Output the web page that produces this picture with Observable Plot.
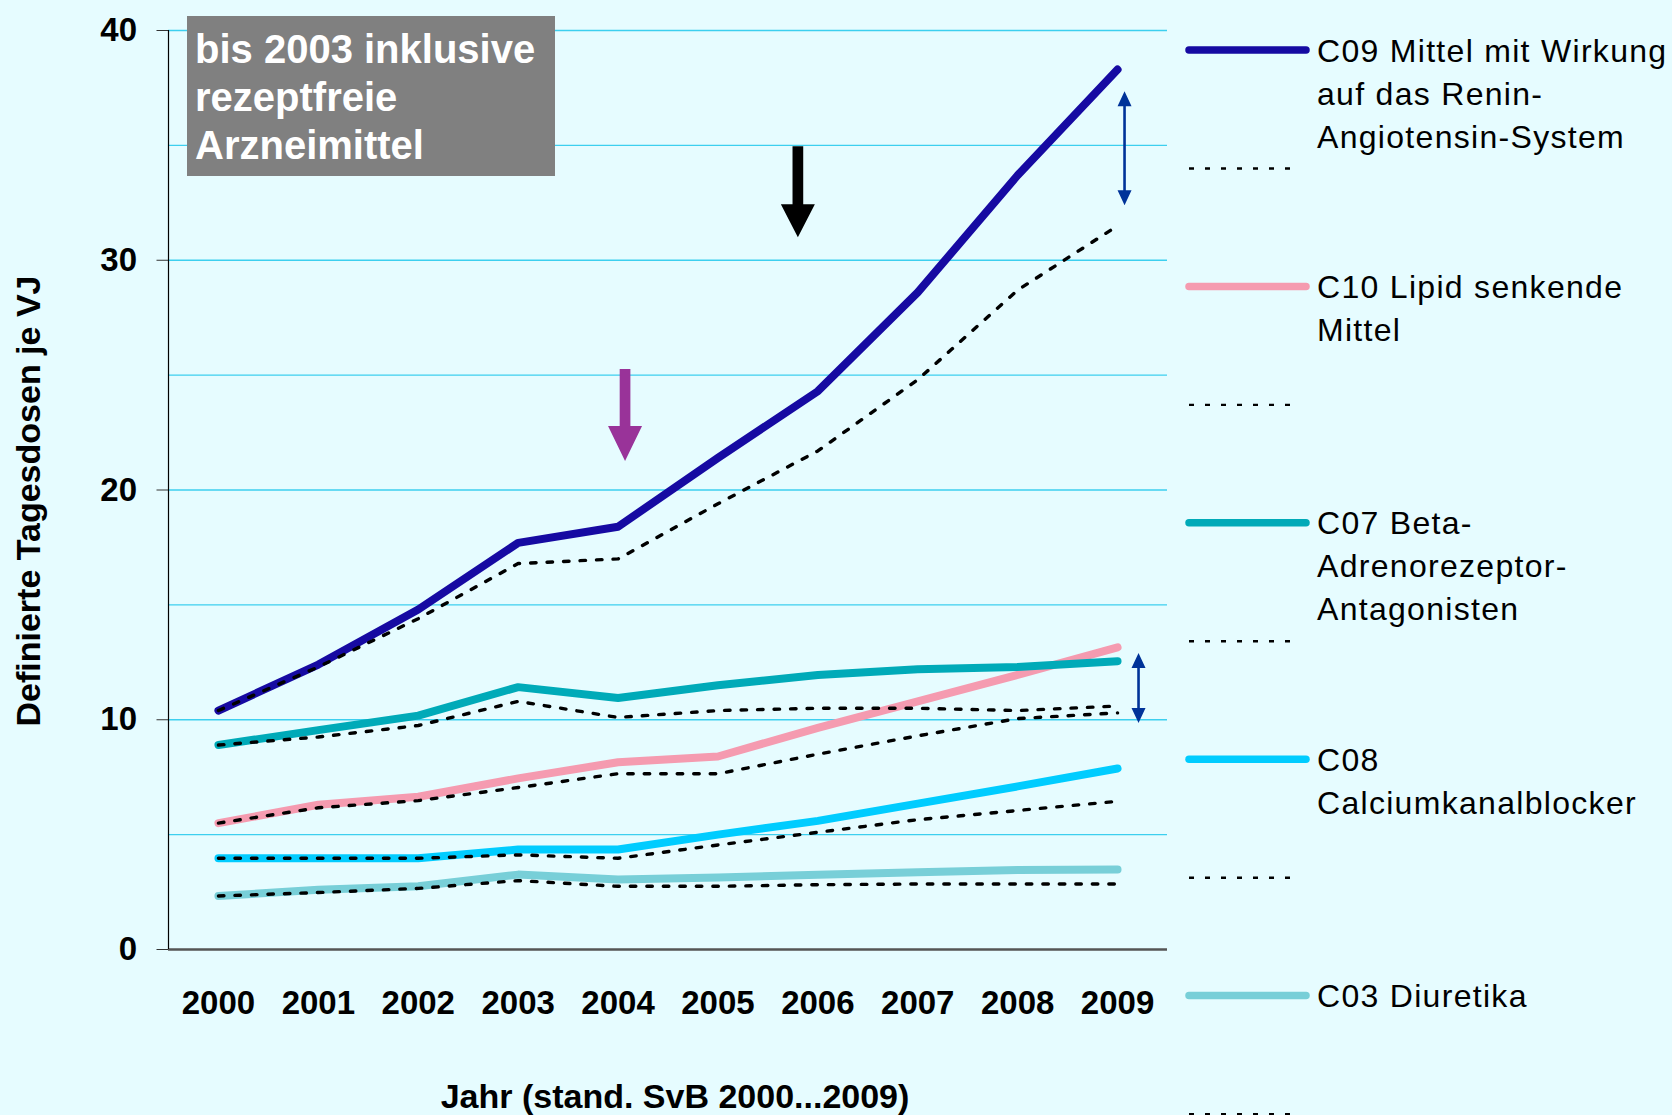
<!DOCTYPE html>
<html>
<head>
<meta charset="utf-8">
<script src="https://cdn.jsdelivr.net/npm/d3@7"></script>
<script src="https://cdn.jsdelivr.net/npm/@observablehq/plot@0.6"></script>
<style>
html, body { margin: 0; padding: 0; background: #E6FCFF; }
#wrap { position: relative; width: 1672px; height: 1115px; overflow: hidden; background: #E6FCFF;
        font-family: "Liberation Sans", Arial, sans-serif; }
#chart { position: absolute; left: 0; top: 0; }
#legend { position: absolute; left: 0; top: 0; pointer-events: none; }
.note { position: absolute; left: 187px; top: 16px; width: 368px; height: 160px; box-sizing: border-box;
        background: #808080; color: #fff; font-weight: bold; font-size: 40px; line-height: 48px;
        padding: 9px 0 0 8px; white-space: nowrap; }
.ytitle { position: absolute; left: 28px; top: 501px; transform: translate(-50%, -50%) rotate(-90deg);
          font-weight: bold; font-size: 34px; white-space: nowrap; color: #000; }
.xtitle { position: absolute; left: 675px; top: 1079px; transform: translateX(-50%);
          font-weight: bold; font-size: 34px; line-height: 34px; white-space: nowrap; color: #000; }
</style>
</head>
<body>
<div id="wrap">
  <div id="chart"></div>
  <div class="note">bis 2003 inklusive<br>rezeptfreie<br>Arzneimittel</div>
  <div class="ytitle">Definierte Tagesdosen je VJ</div>
  <div class="xtitle">Jahr (stand. SvB 2000...2009)</div>
  <svg id="legend" width="1672" height="1115"></svg>
</div>
<script>
// ---------- data ----------
const years = [2000, 2001, 2002, 2003, 2004, 2005, 2006, 2007, 2008, 2009];
const yTicks = [0, 10, 20, 30, 40];
const yGrid = [5, 10, 15, 20, 25, 30, 35, 40];

const seriesNames = ["C09", "C10", "C07", "C08", "C03"];
const legendLabels = [
  ["C09 Mittel mit Wirkung", "auf das Renin-", "Angiotensin-System"],
  ["C10 Lipid senkende", "Mittel"],
  ["C07 Beta-", "Adrenorezeptor-", "Antagonisten"],
  ["C08", "Calciumkanalblocker"],
  ["C03 Diuretika"]
];

const c09    = [10.4, 12.4, 14.8, 17.7, 18.4, 21.4, 24.3, 28.6, 33.7, 38.3];
const c09Ref = [10.4, 12.3, 14.4, 16.8, 17.0, 19.4, 21.7, 24.8, 28.7, 31.5];
const c10    = [5.5, 6.3, 6.65, 7.45, 8.15, 8.4, 9.65, 10.8, 11.95, 13.15];
const c10Ref = [5.5, 6.17, 6.48, 7.05, 7.65, 7.65, 8.5, 9.3, 10.05, 10.3];
const c07    = [8.9, 9.55, 10.18, 11.42, 10.95, 11.5, 11.95, 12.2, 12.3, 12.55];
const c07Ref = [8.9, 9.25, 9.75, 10.8, 10.1, 10.4, 10.5, 10.5, 10.4, 10.6];
const c08    = [3.97, 3.97, 3.97, 4.35, 4.35, 5.0, 5.6, 6.35, 7.1, 7.88];
const c08Ref = [3.97, 3.97, 3.97, 4.12, 3.97, 4.55, 5.1, 5.65, 6.05, 6.45];
const c03    = [2.33, 2.6, 2.75, 3.26, 3.05, 3.13, 3.25, 3.36, 3.46, 3.48];
const c03Ref = [2.33, 2.48, 2.66, 3.0, 2.75, 2.75, 2.82, 2.85, 2.85, 2.85];

// annotation anchors (data units)
const blackArrow = [{year: 2005.8, tip: 31.0}];
const purpleArrow = [{year: 2004.07, tip: 21.26}];
const gapArrowC09 = [{year: 2009.07, top: 37.36}];
const gapArrowC07 = [{year: 2009.21, top: 12.9}];

// ---------- styles ----------
const seriesColors = ["#160AA2", "#F59BB0", "#00AAB8", "#00CCFF", "#78CFD8"];
const gridColor = "#3CCFEF";
const dash = "5.5,11";

const solidVals = [c09, c10, c07, c08, c03];
const refVals = [c09Ref, c10Ref, c07Ref, c08Ref, c03Ref];
const rows = (vals, name) => years.map((year, i) => ({year, value: vals[i], series: name}));

const blockShape = (sw, hw, hl) => ({
  draw(ctx, l) {
    const s = l - hl;
    ctx.moveTo(-sw / 2, 0); ctx.lineTo(sw / 2, 0); ctx.lineTo(sw / 2, -s);
    ctx.lineTo(hw / 2, -s); ctx.lineTo(0, -l); ctx.lineTo(-hw / 2, -s);
    ctx.lineTo(-sw / 2, -s); ctx.closePath();
  }
});
const doubleShape = (sw, hw, hl) => ({
  draw(ctx, l) {
    ctx.moveTo(0, 0); ctx.lineTo(hw / 2, -hl); ctx.lineTo(sw / 2, -hl);
    ctx.lineTo(sw / 2, -(l - hl)); ctx.lineTo(hw / 2, -(l - hl)); ctx.lineTo(0, -l);
    ctx.lineTo(-hw / 2, -(l - hl)); ctx.lineTo(-sw / 2, -(l - hl)); ctx.lineTo(-sw / 2, -hl);
    ctx.lineTo(-hw / 2, -hl); ctx.closePath();
  }
});

const seriesMarks = [];
seriesNames.forEach((name, k) => {
  seriesMarks.push(Plot.line(rows(solidVals[k], name), {
    x: "year", y: "value", stroke: seriesColors[k], strokeWidth: 8,
    strokeLinecap: "round", strokeLinejoin: "round"
  }));
  seriesMarks.push(Plot.line(rows(refVals[k], name), {
    x: "year", y: "value", stroke: "#000", strokeWidth: 3.4, strokeDasharray: dash
  }));
});

const chart = Plot.plot({
  width: 1672,
  height: 1115,
  marginLeft: 168,
  marginRight: 505,
  marginTop: 30,
  marginBottom: 166,
  x: {domain: [1999.5, 2009.5]},
  y: {domain: [0, 40]},
  style: {
    background: "transparent",
    fontFamily: "'Liberation Sans', Arial, sans-serif",
    fontWeight: "bold",
    fontSize: "33px",
    color: "#000",
    overflow: "visible"
  },
  marks: [
    Plot.gridY(yGrid, {stroke: gridColor, strokeOpacity: 1, strokeWidth: 1.3}),
    Plot.ruleY([0], {stroke: "#555", strokeWidth: 2.5}),
    Plot.ruleX([1999.5], {stroke: "#000", strokeWidth: 1.2}),
    Plot.axisY(yTicks, {tickSize: 11.5, tickPadding: 20, stroke: "#333", label: null}),
    Plot.axisX(years, {tickSize: 0, tickPadding: 41, tickFormat: d => String(d), label: null}),
    ...seriesMarks,
    Plot.vector(blackArrow, {x: "year", y: "tip", length: 91, rotate: 180, anchor: "end",
      shape: blockShape(10.7, 34, 33), fill: "#000", stroke: "none"}),
    Plot.vector(purpleArrow, {x: "year", y: "tip", length: 92, rotate: 180, anchor: "end",
      shape: blockShape(10.7, 34, 35), fill: "#993399", stroke: "none"}),
    Plot.vector(gapArrowC09, {x: "year", y: "top", length: 114, rotate: 0, anchor: "end",
      shape: doubleShape(2.6, 14, 15), fill: "#003399", stroke: "none"}),
    Plot.vector(gapArrowC07, {x: "year", y: "top", length: 70, rotate: 0, anchor: "end",
      shape: doubleShape(2.6, 14, 15), fill: "#003399", stroke: "none"})
  ]
});
document.getElementById("chart").appendChild(chart);

// ---------- legend ----------
const lg = d3.select("#legend");
const legX1 = 1189, legX2 = 1306, textX = 1317, rowStep = 236.4, firstY = 50, dotOffset = 118.5;
seriesNames.forEach((name, k) => {
  const y = firstY + k * rowStep;
  lg.append("line").attr("x1", legX1).attr("x2", legX2).attr("y1", y).attr("y2", y)
    .attr("stroke", seriesColors[k]).attr("stroke-width", 7.5).attr("stroke-linecap", "round");
  lg.append("line").attr("x1", legX1).attr("x2", legX2 - 6).attr("y1", y + dotOffset).attr("y2", y + dotOffset)
    .attr("stroke", "#000").attr("stroke-width", 2.4).attr("stroke-dasharray", "5,11");
  const t = lg.append("text").attr("x", textX).attr("y", y + 11.5)
    .attr("font-family", "'Liberation Sans', Arial, sans-serif").attr("font-size", 32)
    .attr("letter-spacing", "1.3px").attr("fill", "#000");
  legendLabels[k].forEach((line, j) => {
    t.append("tspan").attr("x", textX).attr("dy", j === 0 ? 0 : 43).text(line);
  });
});
</script>
</body>
</html>
